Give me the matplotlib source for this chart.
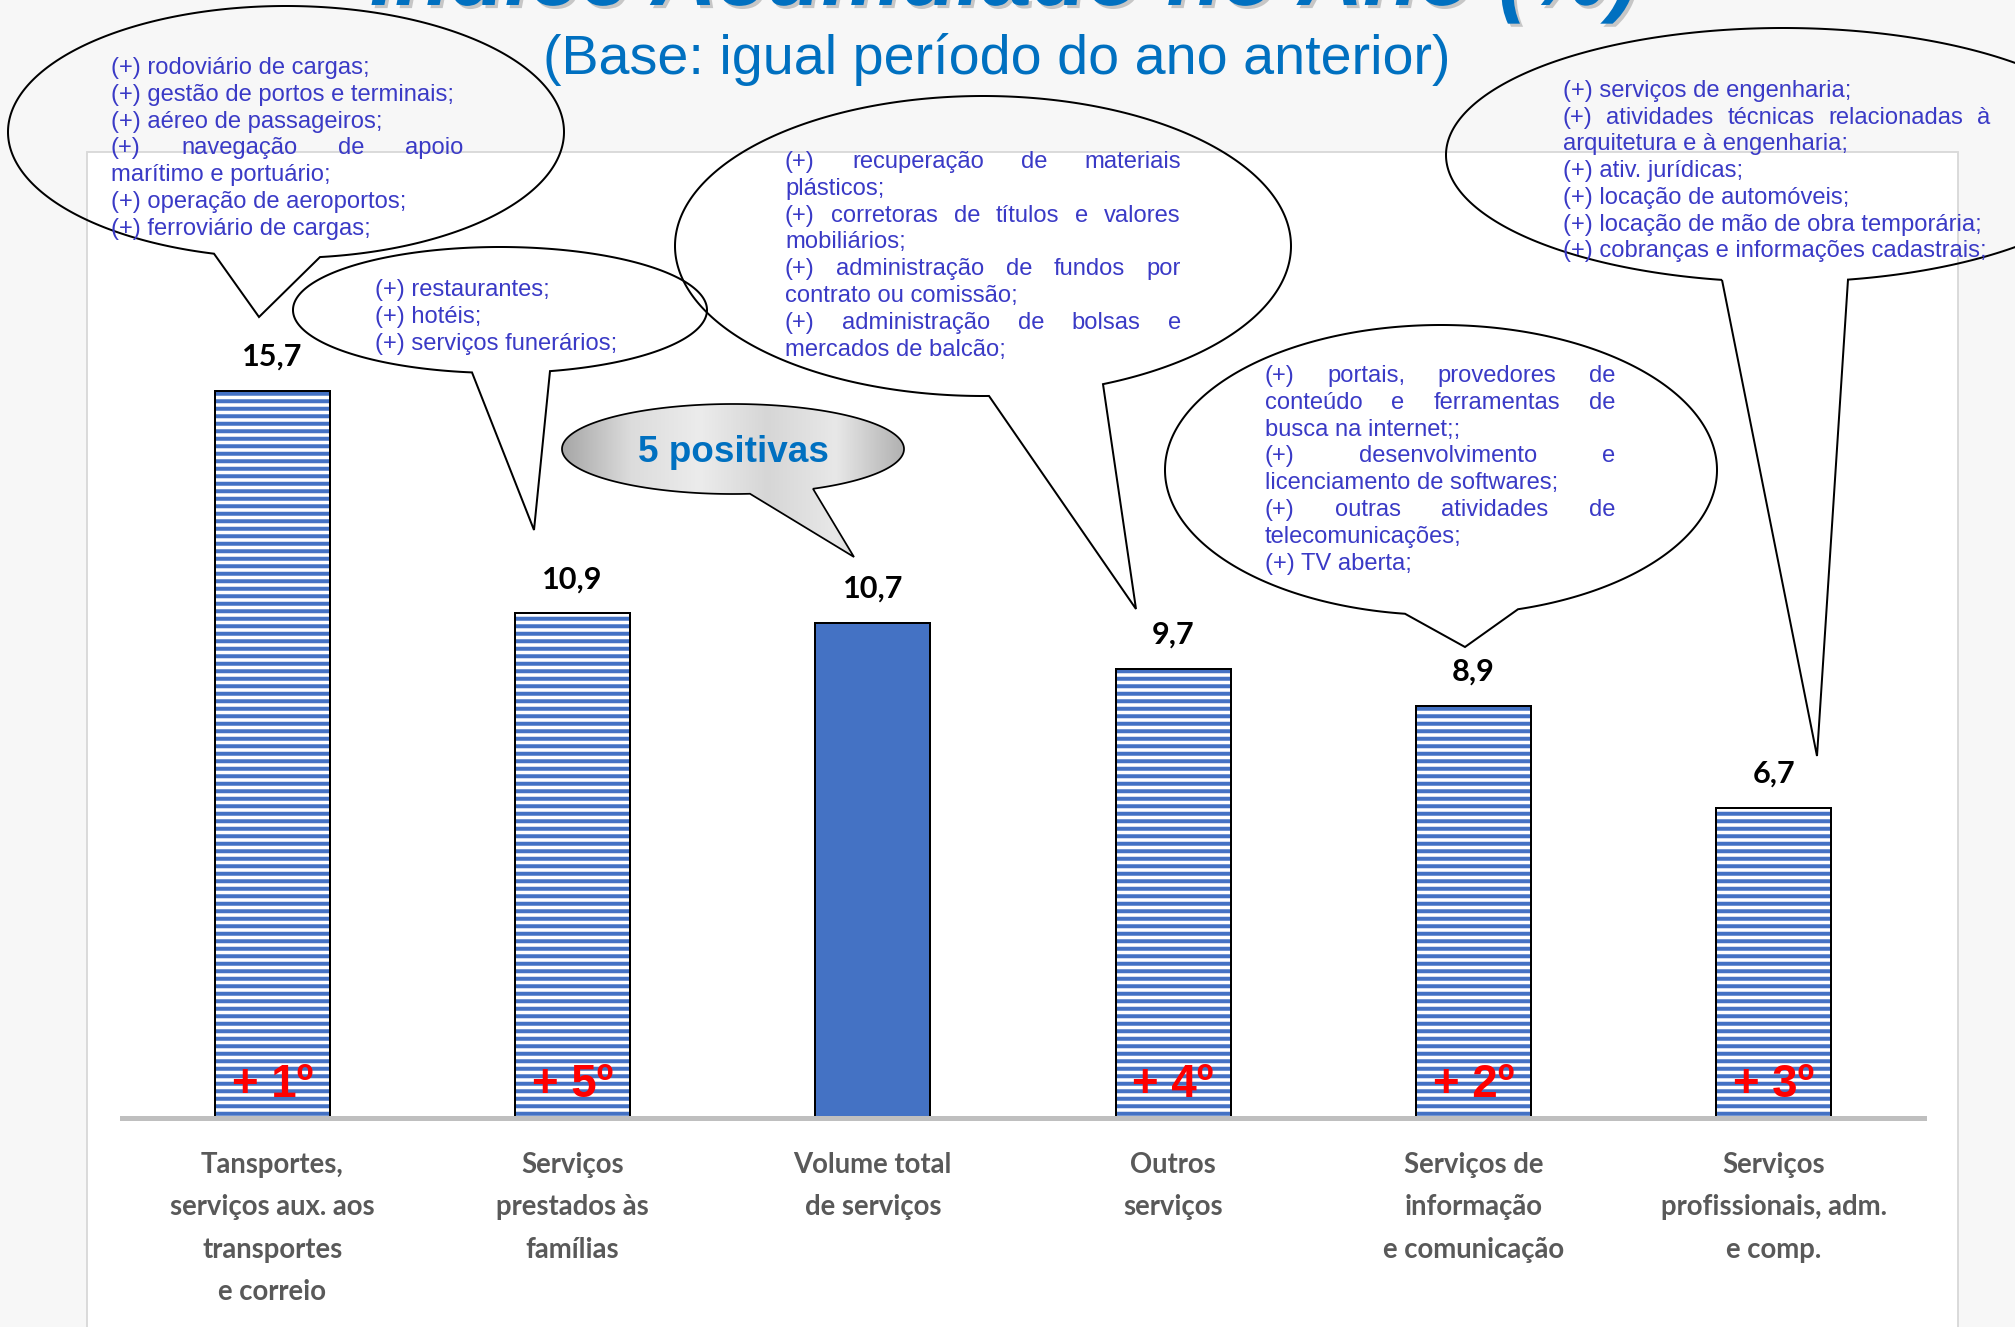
import numpy as np
import matplotlib
matplotlib.use("Agg")
import matplotlib.pyplot as plt
import matplotlib.patheffects as pe
from matplotlib.patches import Polygon, Rectangle
from matplotlib.colors import LinearSegmentedColormap


# Data
categories = ["Tansportes,\nserviços aux. aos\ntransportes\ne correio",
              "Serviços\nprestados às\nfamílias",
              "Volume total\nde serviços",
              "Outros\nserviços",
              "Serviços de\ninformação\ne comunicação",
              "Serviços\nprofissionais, adm.\ne comp."]
values = [15.7, 10.9, 10.7, 9.7, 8.9, 6.7]
ranks = ["+ 1º", "+ 5º", "", "+ 4º", "+ 2º", "+ 3º"]
is_total = [False, False, True, False, False, False]

title = "Índice Acumulado no Ano (%)"
subtitle = "(Base: igual período do ano anterior)"
bubble_label = "5 positivas"

# callout texts: (line, justified)
notes_transp = [("(+) rodoviário de cargas;", False),
                ("(+) gestão de portos e terminais;", False),
                ("(+) aéreo de passageiros;", False),
                ("(+) navegação de apoio", True),
                ("marítimo e portuário;", False),
                ("(+) operação de aeroportos;", False),
                ("(+) ferroviário de cargas;", False)]
notes_fam = [("(+) restaurantes;", False),
             ("(+) hotéis;", False),
             ("(+) serviços funerários;", False)]
notes_outros = [("(+) recuperação de materiais", True),
                ("plásticos;", False),
                ("(+) corretoras de títulos e valores", True),
                ("mobiliários;", False),
                ("(+) administração de fundos por", True),
                ("contrato ou comissão;", False),
                ("(+) administração de bolsas e", True),
                ("mercados de balcão;", False)]
notes_info = [("(+) portais, provedores de", True),
              ("conteúdo e ferramentas de", True),
              ("busca na internet;;", False),
              ("(+) desenvolvimento e", True),
              ("licenciamento de softwares;", False),
              ("(+) outras atividades de", True),
              ("telecomunicações;", False),
              ("(+) TV aberta;", False)]
notes_prof = [("(+) serviços de engenharia;", False),
              ("(+) atividades técnicas relacionadas à", True),
              ("arquitetura e à engenharia;", False),
              ("(+) ativ. jurídicas;", False),
              ("(+) locação de automóveis;", False),
              ("(+) locação de mão de obra temporária;", False),
              ("(+) cobranças e informações cadastrais;", False)]

W, H = 2015, 1327
DPI = 90
BLUE = "#4472C4"
NOTE_COLOR = "#3A3AC6"

plt.rcParams['hatch.linewidth'] = 3.2

fig = plt.figure(figsize=(W / DPI, H / DPI), dpi=DPI, facecolor="#f7f7f7")


def px_axes(z):
    a = fig.add_axes([0, 0, 1, 1], zorder=z)
    a.set_xlim(0, W)
    a.set_ylim(H, 0)
    a.axis("off")
    return a


# callout outline: ellipse with a pointed tail
def callout_poly(cx, cy, rx, ry, b1, b2, tip, **kw):
    t1 = np.arccos(np.clip((b1 - cx) / rx, -1, 1))
    t2 = np.arccos(np.clip((b2 - cx) / rx, -1, 1))
    ts = np.linspace(t1, t2 + 2 * np.pi, 400)
    pts = np.column_stack([cx + rx * np.cos(ts), cy + ry * np.sin(ts)])
    pts = np.vstack([pts, tip])
    return Polygon(pts, closed=True, **kw)


def draw_lines(ax, x0, width, y0, step, lines):
    r = fig.canvas.get_renderer()
    kw = dict(fontsize=19, color=NOTE_COLOR, family="Liberation Sans",
              ha="left", va="baseline")
    for k, (s, just) in enumerate(lines):
        y = y0 + k * step
        if not just:
            ax.text(x0, y, s, **kw)
            continue
        words = s.split()
        ts = [ax.text(0, y, w, **kw) for w in words]
        ws = [t.get_window_extent(r).width for t in ts]
        gap = (width - sum(ws)) / (len(words) - 1)
        xx = x0
        for t, w in zip(ts, ws):
            t.set_x(xx)
            xx += w + gap


# background panel
bg = px_axes(0)
bg.add_patch(Rectangle((87, 152), 1871, 1250, facecolor="white",
                       edgecolor="#d9d9d9", lw=1.5))

# bars
ax = fig.add_axes([122 / W, (H - 1118) / H, 1802 / W, 926 / H], zorder=1)
ax.set_facecolor("none")
ax.set_xlim(-0.5, 5.5)
ax.set_ylim(0, 20)
x = np.arange(len(values))
bw = 0.383
for i, v in enumerate(values):
    if is_total[i]:
        ax.bar(i, v, bw, color=BLUE, edgecolor="black", lw=1.6)
    else:
        ax.bar(i, v, bw, color="white", edgecolor=BLUE, hatch="--", lw=0)
        ax.bar(i, v, bw, fill=False, edgecolor="black", lw=1.6)
    ax.annotate(f"{v:.1f}".replace(".", ","), (i, v), xytext=(0, 20),
                textcoords="offset points", ha="center", va="baseline",
                fontsize=24.5, fontweight="bold", family="Lato")
    if ranks[i]:
        ax.text(i, 0.45, ranks[i], ha="center", va="baseline", color="red",
                fontsize=36.5, fontweight="bold", family="Liberation Sans")

for s in ["top", "left", "right"]:
    ax.spines[s].set_visible(False)
ax.spines["bottom"].set_color("#bfbfbf")
ax.spines["bottom"].set_linewidth(4)
ax.set_yticks([])
ax.set_xticks(x, categories)
ax.tick_params(axis="x", length=0, pad=27)
for lab in ax.get_xticklabels():
    lab.set_fontsize(22)
    lab.set_color("#595959")
    lab.set_family("Lato")
    lab.set_fontweight("bold")
    lab.set_linespacing(1.78)

# foreground: titles and callouts
fg = px_axes(2)
fg.text(1004, 5, title, ha="center", va="baseline", fontsize=72,
        fontweight="bold", style="italic", color="#0070C0",
        family="Liberation Sans",
        path_effects=[pe.SimplePatchShadow(offset=(2.5, -2.5), shadow_rgbFace="#8c8c8c", alpha=0.45),
                      pe.Normal()])
fg.text(997, 59, subtitle, ha="center", va="center", fontsize=44.5,
        color="#0070C0", family="Liberation Sans")

line_kw = dict(facecolor="none", edgecolor="black", lw=1.6)
fg.add_patch(callout_poly(286, 132, 278, 126, 214, 320, (259, 317), **line_kw))
fg.add_patch(callout_poly(500, 310, 207, 63, 472, 550, (534, 530), **line_kw))
fg.add_patch(callout_poly(983, 246, 308, 150, 989, 1103, (1136, 609), **line_kw))
fg.add_patch(callout_poly(1441, 470, 276, 145, 1405, 1518, (1465, 647), **line_kw))
fg.add_patch(callout_poly(1783, 155, 337, 127, 1722, 1848, (1817, 756), **line_kw))

draw_lines(fg, 111, 352, 74, 26.8, notes_transp)
draw_lines(fg, 375, 300, 296, 27, notes_fam)
draw_lines(fg, 785, 396, 168, 26.8, notes_outros)
draw_lines(fg, 1265, 350, 382, 26.8, notes_info)
draw_lines(fg, 1563, 427, 97, 26.7, notes_prof)

# grey "5 positivas" bubble
bubble = callout_poly(733, 449, 171, 45, 750, 813, (854, 557),
                      facecolor="none", edgecolor="black", lw=1.4, zorder=3)
fg.add_patch(bubble)
grey = LinearSegmentedColormap.from_list(
    "g", ["#a6a6a6", "#dcdcdc", "#ececec", "#d6d6d6", "#e8e8e8", "#b0b0b0"])
im = fg.imshow(np.linspace(0, 1, 256)[None, :], extent=(562, 905, 560, 404),
               cmap=grey, aspect="auto", zorder=2)
im.set_clip_path(bubble)
fg.set_xlim(0, W)
fg.set_ylim(H, 0)
fg.text(733, 453, bubble_label, ha="center", va="center", fontsize=29.5,
        fontweight="bold", color="#0070C0", family="Liberation Sans", zorder=4)

fig.savefig("out.png", dpi=DPI, facecolor=fig.get_facecolor())
